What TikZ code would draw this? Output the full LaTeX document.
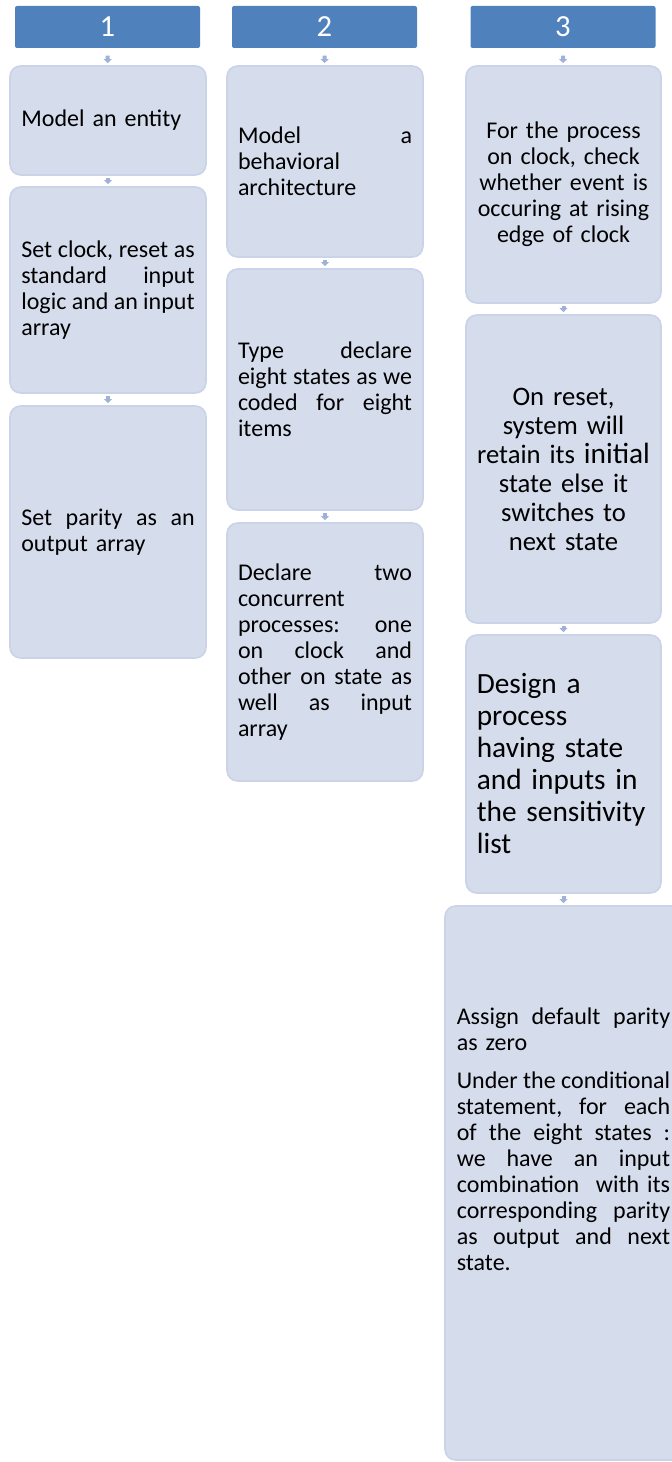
\documentclass[tikz,border=0pt]{standalone}
\usepackage{fontspec}
\setmainfont{Carlito}
\usetikzlibrary{arrows.meta}
\definecolor{headblue}{HTML}{4F81BD}
\definecolor{cardfill}{HTML}{D5DCEC}
\definecolor{cardedge}{HTML}{CAD3E8}
\definecolor{linkblue}{HTML}{9FB1D9}
\tikzset{
  head/.style={fill=headblue, text=white, rounded corners=1.5pt, inner sep=0pt,
    minimum width=138.75pt, minimum height=31.5pt, font=\fontsize{23}{28}\selectfont},
  card/.style={fill=cardfill, draw=cardedge, line width=1.2pt, rounded corners=8pt,
    inner sep=0pt, font=\fontsize{18}{19.5}\selectfont},
  link/.style={draw=linkblue, line width=3pt, -{Triangle[width=6pt,length=3pt]},
    shorten <=1.6pt, shorten >=1.6pt},
}
\begin{document}
\begin{tikzpicture}[x=0.75pt, y=-0.75pt]
    \useasboundingbox (0,0) rectangle (671,1462);
    % headers
    \node[head] (h1) at (107.5,27) {1};
    \node[head] (h2) at (324.5,27) {2};
    \node[head] (h3) at (563,27) {3};
    % column 1
    \node[card, align=left, text width=130pt, minimum width=147pt, minimum height=81.75pt]
        (p11) at (108,120.5) {Model an entity};
    \node[card, align=left, text width=130pt, minimum width=147pt, minimum height=154.5pt]
        (p12) at (108,290) {Set\hfill clock,\hfill reset\hfill as\\ standard\hfill input\\
        logic\hfill and\hfill an\hfill input\\ array};
    \node[card, align=left, text width=130pt, minimum width=147pt, minimum height=189pt]
        (p13) at (108,532) {Set\hfill parity\hfill as\hfill an\\ output array};
    % column 2
    \node[card, align=left, text width=130.5pt, minimum width=147pt, minimum height=143.25pt]
        (p21) at (325,161.5) {Model\hfill a\\ behavioral\\ architecture};
    \node[card, align=left, text width=130.5pt, minimum width=147pt, minimum height=180.75pt]
        (p22) at (325,389.5) {Type\hfill declare\\ eight\hfill states\hfill as\hfill we\\
        coded\hfill for\hfill eight\\ items};
    \node[card, align=left, text width=130.5pt, minimum width=147pt, minimum height=193.5pt]
        (p23) at (325,652) {Declare\hfill two\\ concurrent\\ processes:\hfill one\\
        on\hfill clock\hfill and\\ other\hfill on\hfill state\hfill as\\
        well\hfill as\hfill input\\ array};
    % column 3
    \node[card, align=center, text width=130pt, minimum width=146.25pt, minimum height=177.75pt]
        (p31) at (563.5,184.5) {For the process\\ on clock, check\\ whether event is\\
        occuring at rising\\ edge of clock};
    \node[card, align=center, text width=130pt, minimum width=146.25pt, minimum height=231pt,
        font=\fontsize{20}{21.75}\selectfont]
        (p32) at (563.5,469) {On reset,\\ system will\\
        retain its {\fontsize{22}{24}\selectfont initial}\\ state else it\\ switches to\\ next state};
    \node[card, align=left, text width=130pt, minimum width=146.25pt, minimum height=193.5pt,
        font=\fontsize{22}{24}\selectfont]
        (p33) at (563.5,764) {Design a\\ process\\ having state\\ and inputs in\\
        the sensitivity\\ list};
    \node[card, minimum width=177.75pt, minimum height=415.5pt] (p34) at (563.5,1183) {};
    \node[align=left, text width=160pt, inner sep=0pt, font=\fontsize{18}{19.5}\selectfont]
        (t34) at (563.5,1139) {Assign\hfill default\hfill parity\\ as zero\\[9pt]
        Under\hfill the\hfill conditional\\ statement,\hfill for\hfill each\\
        of\hfill the\hfill eight\hfill states\hfill :\\ we\hfill have\hfill an\hfill input\\
        combination\hfill with its\\ corresponding\hfill parity\\
        as\hfill output\hfill and\hfill next\\ state.};
    % connectors
    \draw[link, shorten <=5.6pt] (h1) -- (p11);
    \draw[link, shorten <=5.6pt] (h2) -- (p21);
    \draw[link, shorten <=5.6pt] (h3) -- (p31);
    \foreach \a/\b in {p11/p12, p12/p13, p21/p22, p22/p23, p31/p32, p32/p33, p33/p34}
        \draw[link] (\a) -- (\b);
\end{tikzpicture}
\end{document}
